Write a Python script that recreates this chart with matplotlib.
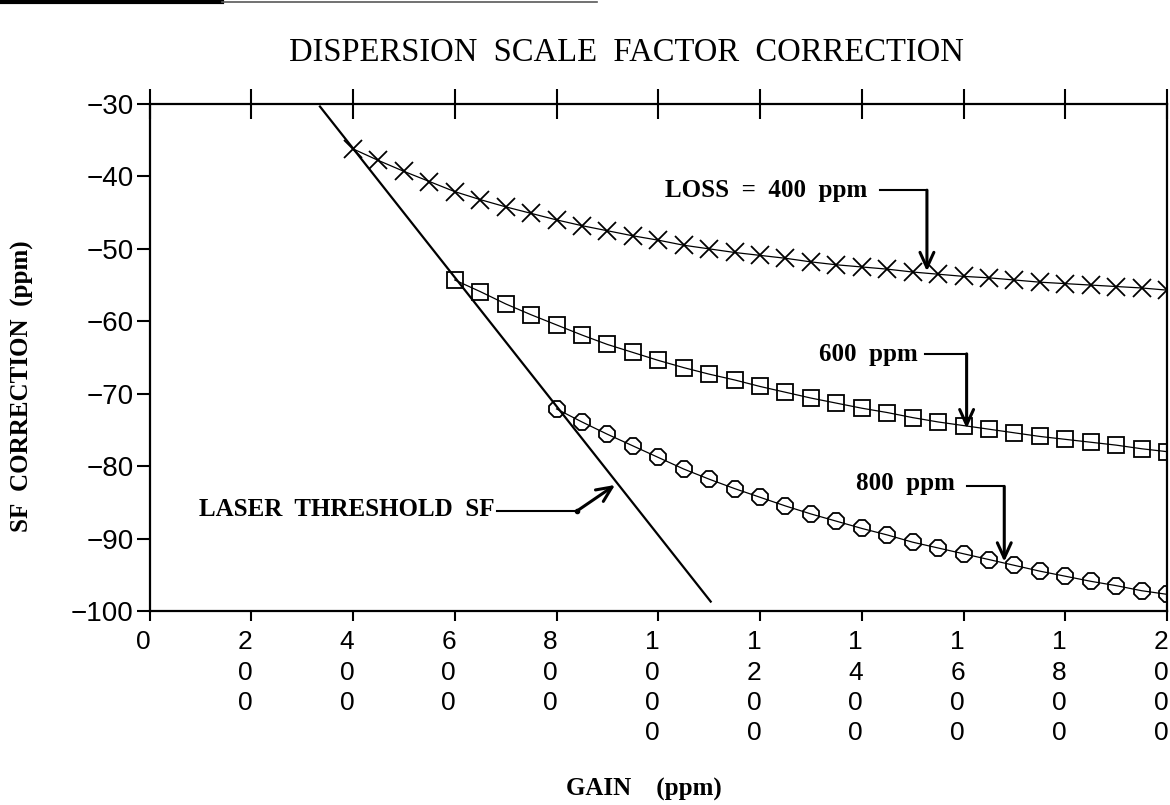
import matplotlib
matplotlib.use("Agg")
import matplotlib.pyplot as plt
import matplotlib.transforms as mtransforms
from matplotlib.lines import Line2D

# gain grid (ppm) shared by the three curves
gain_400 = [400, 450, 500, 550, 600, 650, 700, 750, 800, 850, 900, 950,
            1000, 1050, 1100, 1150, 1200, 1250, 1300, 1350, 1400, 1450,
            1500, 1550, 1600, 1650, 1700, 1750, 1800, 1850, 1900, 1950, 2000]
gain_600 = gain_400[4:]
gain_800 = gain_400[8:]

# SF correction (ppm) for loss = 400 / 600 / 800 ppm
sf_400 = [-36.2, -37.8, -39.3, -40.7, -42.1, -43.2, -44.2, -45.1, -46.0, -46.8,
          -47.5, -48.2, -48.8, -49.5, -50.0, -50.5, -50.9, -51.3, -51.8, -52.2,
          -52.5, -52.8, -53.2, -53.5, -53.8, -54.0, -54.3, -54.6, -54.8, -55.0,
          -55.2, -55.4, -55.7]
sf_600 = [-54.3, -55.9, -57.6, -59.1, -60.5, -61.9, -63.2, -64.3, -65.4, -66.4,
          -67.3, -68.1, -69.0, -69.8, -70.6, -71.3, -72.0, -72.6, -73.3, -73.9,
          -74.4, -74.9, -75.4, -75.9, -76.3, -76.7, -77.1, -77.6, -78.0]
sf_800 = [-72.1, -73.9, -75.6, -77.2, -78.8, -80.4, -81.8, -83.1, -84.3, -85.5,
          -86.6, -87.6, -88.6, -89.5, -90.5, -91.3, -92.1, -92.9, -93.7, -94.5,
          -95.2, -95.9, -96.5, -97.2, -97.7]

# laser threshold SF line
laser_gain = [335, 1103]
laser_sf = [-30.35, -98.7]

x_ticks = [0, 200, 400, 600, 800, 1000, 1200, 1400, 1600, 1800, 2000]
x_labels = ["\n".join(str(v)) for v in x_ticks]
y_ticks = [-100, -90, -80, -70, -60, -50, -40, -30]

fig = plt.figure(figsize=(11.7, 8.05), dpi=100)
ax = fig.add_axes([0.1278, 0.2410, 0.8697, 0.6298])

ax.plot(laser_gain, laser_sf, color="black", lw=1.6)
ax.plot(gain_400, sf_400, color="black", lw=0.9, marker="x", ms=13, mew=1.3)
ax.plot(gain_600, sf_600, color="black", lw=0.9, marker="s", ms=12, mew=1.3,
        mfc="none")
ax.plot(gain_800, sf_800, color="black", lw=0.9, marker="8", ms=13, mew=1.3,
        mfc="none")

ax.set_xlim(0, 2000)
ax.set_ylim(-100, -30)

for s in ax.spines.values():
    s.set_linewidth(1.6)
ax.spines["top"].set_visible(False)

ax.set_xticks(x_ticks)
ax.set_xticklabels(x_labels, fontfamily="Liberation Sans", fontsize=19,
                   linespacing=1.33, va="top")
ax.set_yticks(y_ticks)
ax.set_yticklabels([f"\u2212{abs(v)}" for v in y_ticks],
                   fontfamily="Liberation Sans", fontsize=20)
ax.tick_params(axis="x", direction="out", length=7.5, width=1.5, pad=6.5)
ax.tick_params(axis="y", direction="out", length=9.5, width=1.5, pad=2)

shift = mtransforms.ScaledTranslation(-0.06, 0, fig.dpi_scale_trans)
for lab in ax.get_xticklabels():
    lab.set_transform(lab.get_transform() + shift)

# top line at -30 with crossing ticks
top = ax.secondary_xaxis("top")
top.set_xticks(x_ticks)
top.set_xticklabels([])
top.tick_params(direction="inout", length=21, width=1.5)
top.spines["top"].set_linewidth(1.6)

# annotations
bold = dict(fontfamily="Liberation Serif", fontweight="bold", fontsize=18)
arrow = dict(arrowstyle="->,head_length=0.55,head_width=0.25", lw=2.2,
             color="black", shrinkA=0, shrinkB=0, mutation_scale=20)

ax.text(1410, -42.8, "LOSS  =  400  ppm", ha="right", va="baseline", **bold)
ax.plot([1436, 1528], [-41.9, -41.9], color="black", lw=1.5)
ax.annotate("", xy=(1528, -53.1), xytext=(1528, -41.9), arrowprops=arrow)

ax.text(1509, -65.5, "600  ppm", ha="right", va="baseline", **bold)
ax.plot([1524, 1606], [-64.5, -64.5], color="black", lw=1.5)
ax.annotate("", xy=(1606, -74.8), xytext=(1606, -64.5), arrowprops=arrow)

ax.text(1583, -83.3, "800  ppm", ha="right", va="baseline", **bold)
ax.plot([1606, 1680], [-82.8, -82.8], color="black", lw=1.5)
ax.annotate("", xy=(1680, -93.2), xytext=(1680, -82.8), arrowprops=arrow)

ax.text(679, -86.9, "LASER  THRESHOLD  SF", ha="right", va="baseline", **bold)
ax.plot([683, 840], [-86.2, -86.2], color="black", lw=1.5)
ax.plot([840], [-86.2], "o", color="black", ms=3)
ax.annotate("", xy=(915, -82.6), xytext=(840, -86.2), arrowprops=arrow)

fig.text(0.535, 0.935, "DISPERSION  SCALE  FACTOR  CORRECTION",
         ha="center", va="center", fontfamily="Liberation Serif", fontsize=23.5)
fig.text(0.019, 0.5205, "SF  CORRECTION  (ppm)", rotation=90,
         ha="center", va="center", **bold)
fig.text(0.550, 0.019, "GAIN    (ppm)", ha="center", va="center", **bold)

# scan edge at the top of the page
fig.add_artist(Line2D([0, 0.19], [0.997, 0.997], lw=3, color="black"))
fig.add_artist(Line2D([0.19, 0.51], [0.997, 0.997], lw=1.2, color="0.35"))

fig.savefig("out.png", dpi=100)
